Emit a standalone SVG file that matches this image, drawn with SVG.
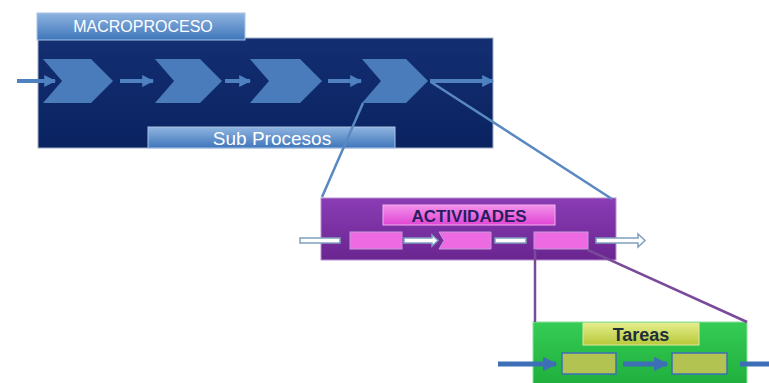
<svg xmlns="http://www.w3.org/2000/svg" width="769" height="383" viewBox="0 0 769 383">
<defs>
<linearGradient id="gNavy" x1="0" y1="0" x2="0" y2="1"><stop offset="0" stop-color="#132f72"/><stop offset="1" stop-color="#0a2260"/></linearGradient>
<linearGradient id="gTab" x1="0" y1="0" x2="0" y2="1"><stop offset="0" stop-color="#8fb4e0"/><stop offset="1" stop-color="#3f76bb"/></linearGradient>
<linearGradient id="gPurple" x1="0" y1="0" x2="0" y2="1"><stop offset="0" stop-color="#8a3cb4"/><stop offset="1" stop-color="#6a2590"/></linearGradient>
<linearGradient id="gPink" x1="0" y1="0" x2="0" y2="1"><stop offset="0" stop-color="#f390ea"/><stop offset="1" stop-color="#e045d4"/></linearGradient>
<linearGradient id="gGreen" x1="0" y1="0" x2="0" y2="1"><stop offset="0" stop-color="#35cc55"/><stop offset="1" stop-color="#1fae3c"/></linearGradient>
<linearGradient id="gYel" x1="0" y1="0" x2="0" y2="1"><stop offset="0" stop-color="#e4ee8a"/><stop offset="1" stop-color="#b8c83a"/></linearGradient>
<marker id="mBlue" viewBox="0 0 10 10" refX="9" refY="5" markerWidth="3" markerHeight="3" orient="auto"><path d="M0,0 L10,5 L0,10 z" fill="#4f80c0"/></marker>
<marker id="mTask" viewBox="0 0 10 10" refX="9" refY="5" markerWidth="3" markerHeight="3" orient="auto"><path d="M0,0 L10,5 L0,10 z" fill="#3d6fb6"/></marker>
</defs>
<style>
.chev{fill:#4a7cbc}
.arr{stroke:#4f80c0;stroke-width:4;fill:none}
.zoom{stroke:#5a88c0;stroke-width:2.5;fill:none}
.zoomp{stroke:#7a4a9a;stroke-width:2.5;fill:none}
.act{fill:#ee6ae2;stroke:#c59ad8;stroke-width:1}
.aarrow{fill:#ffffff;stroke:#7f9fbf;stroke-width:1.5}
.tsk{fill:#b3c352;stroke:#3d6fb6;stroke-width:1.5}
.tarr{stroke:#3d6fb6;stroke-width:5;fill:none}
.lbl{font-family:"Liberation Sans",Arial,sans-serif}
</style>
<rect width="769" height="383" fill="#ffffff"/>
<g id="macroproceso">
<rect x="38" y="38" width="455" height="110" fill="url(#gNavy)" stroke="#a0b0c8" stroke-width="1"/>
<rect x="37" y="13" width="208" height="27" fill="url(#gTab)" stroke="#a8c4e6" stroke-width="1"/>
<text x="143" y="32" text-anchor="middle" class="lbl" font-size="16" fill="#ffffff">MACROPROCESO</text>
<path class="chev" d="M43,59 L91,59 L113,81 L91,103 L43,103 L62,81 z"/>
<path class="chev" d="M155,59 L200,59 L222,81 L200,103 L155,103 L174,81 z"/>
<path class="chev" d="M250,59 L300,59 L322,81 L300,103 L250,103 L269,81 z"/>
<path class="chev" d="M362,59 L406,59 L428,81 L406,103 L362,103 L381,81 z"/>
<rect x="148" y="127" width="247" height="21" fill="url(#gTab)" stroke="#a8c4e6" stroke-width="1"/>
<text x="272" y="145" text-anchor="middle" class="lbl" font-size="19" fill="#ffffff">Sub Procesos</text>
</g>
<g id="actividades">
<rect x="321" y="198" width="295" height="62" fill="url(#gPurple)" stroke="#b890d0" stroke-width="1"/>
<rect x="383" y="205" width="172" height="20" fill="url(#gPink)" stroke="#f4b0ee" stroke-width="1"/>
<text x="469" y="222" text-anchor="middle" class="lbl" font-size="17" font-weight="bold" fill="#2a1d5e">ACTIVIDADES</text>
<rect class="act" x="350" y="232" width="52" height="17"/>
<path class="act" d="M439,232 L491,232 L491,249 L439,249 L444,240.5 z"/>
<rect class="act" x="534" y="232" width="54" height="17"/>
</g>
<g id="tareas">
<rect x="533" y="322" width="214" height="64" fill="url(#gGreen)" stroke="#90e0a0" stroke-width="1"/>
<rect x="583" y="323" width="116" height="22" fill="url(#gYel)" stroke="#e0ea9a" stroke-width="1"/>
<text x="641" y="341" text-anchor="middle" class="lbl" font-size="18" font-weight="bold" fill="#1e2e3a">Tareas</text>
<rect class="tsk" x="562" y="353" width="54" height="21"/>
<rect class="tsk" x="672" y="353" width="55" height="21"/>
</g>
<g id="connectors">
<line class="arr" x1="17" y1="81" x2="55" y2="81" marker-end="url(#mBlue)"/>
<line class="arr" x1="120" y1="81" x2="153" y2="81" marker-end="url(#mBlue)"/>
<line class="arr" x1="225" y1="81" x2="250" y2="81" marker-end="url(#mBlue)"/>
<line class="arr" x1="328" y1="81" x2="361" y2="81" marker-end="url(#mBlue)"/>
<line class="arr" x1="430" y1="81" x2="493" y2="81" marker-end="url(#mBlue)"/>
<line class="zoom" x1="363" y1="103" x2="322" y2="197"/>
<line class="zoom" x1="431" y1="82" x2="612" y2="199"/>
<rect class="aarrow" x="300" y="238" width="40" height="5"/>
<path class="aarrow" d="M404,238 L432,238 L432,235 L438,240.5 L432,246 L432,243 L404,243 z"/>
<rect class="aarrow" x="495" y="238" width="31" height="5"/>
<path class="aarrow" d="M596,238 L638,238 L638,234 L645,240.5 L638,247 L638,243 L596,243 z"/>
<line class="zoomp" x1="535" y1="249" x2="535" y2="322"/>
<line class="zoomp" x1="588" y1="250" x2="747" y2="322"/>
<line class="tarr" x1="498" y1="364" x2="556" y2="364" marker-end="url(#mTask)"/>
<line class="tarr" x1="623" y1="364" x2="667" y2="364" marker-end="url(#mTask)"/>
<line class="tarr" x1="740" y1="364" x2="769" y2="364"/>
</g>
</svg>
